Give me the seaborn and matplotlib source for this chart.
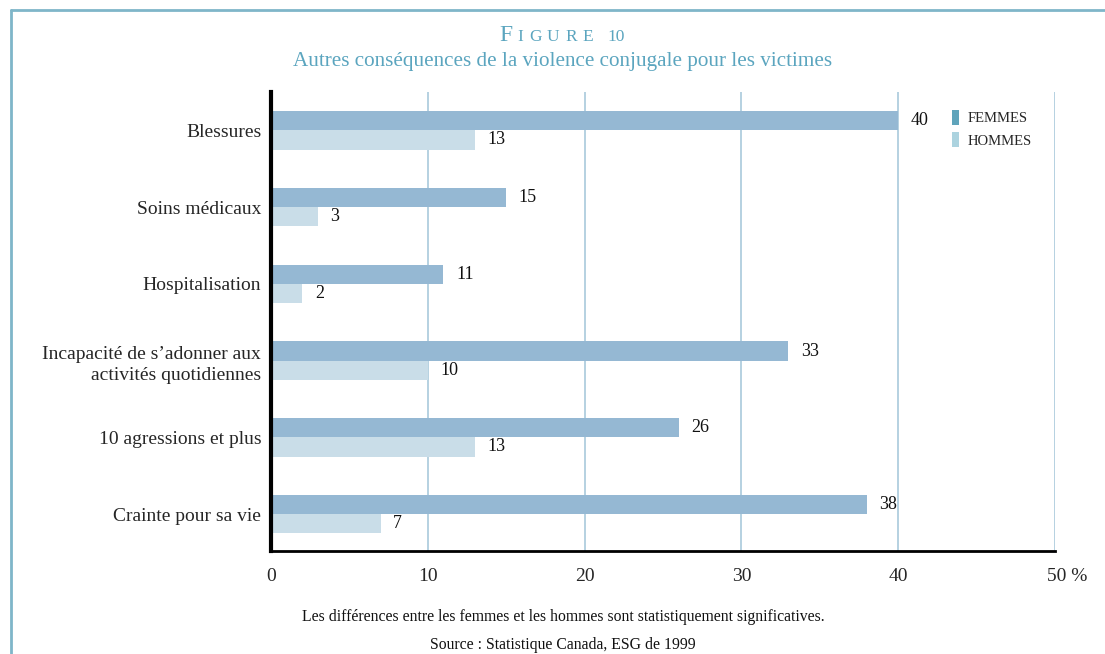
import pandas as pd
import matplotlib
matplotlib.use("Agg")
import matplotlib.pyplot as plt
import matplotlib.transforms as mtransforms
import seaborn as sns
from matplotlib.patches import Patch
from matplotlib.lines import Line2D

# Data
categories = ["Blessures", "Soins médicaux", "Hospitalisation",
              "Incapacité de s’adonner aux\nactivités quotidiennes",
              "10 agressions et plus", "Crainte pour sa vie"]
femmes = [40, 15, 11, 33, 26, 38]
hommes = [13, 3, 2, 10, 13, 7]
series = ["Femmes", "Hommes"]
xticks = [0, 10, 20, 30, 40, 50]
xtick_labels = ["0", "10", "20", "30", "40", "50 %"]

df = pd.DataFrame({
    "cat": categories * 2,
    "val": femmes + hommes,
    "sexe": [series[0]] * len(categories) + [series[1]] * len(categories),
})

bar_colors = {"Femmes": "#95b8d3", "Hommes": "#c9dde8"}
legend_colors = ["#5fa4bb", "#acd3df"]
accent = "#5ba5bf"
serif = "Liberation Serif"

sns.set_theme(style="white")
plt.rcParams["font.family"] = [serif, "DejaVu Serif"]

fig = plt.figure(figsize=(11.05, 6.54), dpi=100)
ax = fig.add_axes([0.2452, 0.1575, 0.7095, 0.7018])

sns.barplot(data=df, y="cat", x="val", hue="sexe", palette=bar_colors,
            orient="h", width=0.5, dodge=True, ax=ax, legend=False,
            saturation=1, linewidth=0, errorbar=None)

for cont in ax.containers:
    ax.bar_label(cont, padding=9, fontsize=13, color="#111111", family=serif)

ax.set_xlim(0, 50)
ax.set_ylim(5.48, -0.5)
ax.set_xticks(xticks)
ax.set_xticklabels(xtick_labels, fontsize=14, family=serif)
ax.tick_params(axis="x", length=0, pad=12)
ax.tick_params(axis="y", length=0, pad=7, labelsize=14)
for lab in ax.get_yticklabels():
    lab.set_family(serif)
    lab.set_linespacing(1.3)
# keep the number of the last tick centred on its gridline, "%" hanging right
last = ax.get_xticklabels()[-1]
last.set_transform(last.get_transform() +
                   mtransforms.ScaledTranslation(12 / 100, 0, fig.dpi_scale_trans))
ax.set_xlabel("")
ax.set_ylabel("")
ax.grid(axis="x", color="#a9c9dc", linewidth=1.2)
ax.set_axisbelow(True)
for s in ["top", "right"]:
    ax.spines[s].set_visible(False)
ax.spines["left"].set_color("black")
ax.spines["left"].set_linewidth(3)
ax.spines["bottom"].set_color("black")
ax.spines["bottom"].set_linewidth(2)

# legend
handles = [Patch(facecolor=c, edgecolor="none") for c in legend_colors]
leg = ax.legend(handles, ["FEMMES", "HOMMES"], loc="upper left",
                bbox_to_anchor=(0.852, 0.99), frameon=False,
                handlelength=0.5, handleheight=1.2, handletextpad=0.55,
                labelspacing=0.5, prop={"family": serif, "size": 10.5})

# outer frame lines (top and left)
fig.add_artist(Line2D([0.0100, 1.0], [0.9847, 0.9847], color="#7fb6c9",
                      linewidth=2, transform=fig.transFigure))
fig.add_artist(Line2D([0.0100, 0.0100], [0.0, 0.9847], color="#7fb6c9",
                      linewidth=2, transform=fig.transFigure))

# title in tracked small caps: big "F", small "IGURE", then "10"
renderer = fig.canvas.get_renderer()
x = 499.0
pieces = [("F", 17)] + [(c, 12.5) for c in "IGURE"]
for ch, size in pieces:
    t = fig.text(x / 1105, 0.937, ch, color=accent, fontsize=size,
                 family=serif, ha="left", va="baseline")
    x += t.get_window_extent(renderer).width + 5.5
x += 9
fig.text(x / 1105, 0.937, "10", color=accent, fontsize=12.5, family=serif,
         ha="left", va="baseline")
fig.text(0.5095, 0.899, "Autres conséquences de la violence conjugale pour les victimes",
         color=accent, fontsize=15.2, family=serif, ha="center", va="baseline")

fig.text(0.5095, 0.050, "Les différences entre les femmes et les hommes sont statistiquement significatives.",
         fontsize=11.3, family=serif, ha="center", va="baseline", color="#111111")
fig.text(0.5095, 0.007, "Source : Statistique Canada, ESG de 1999",
         fontsize=11.3, family=serif, ha="center", va="baseline", color="#111111")

fig.savefig("out.png", dpi=100)
